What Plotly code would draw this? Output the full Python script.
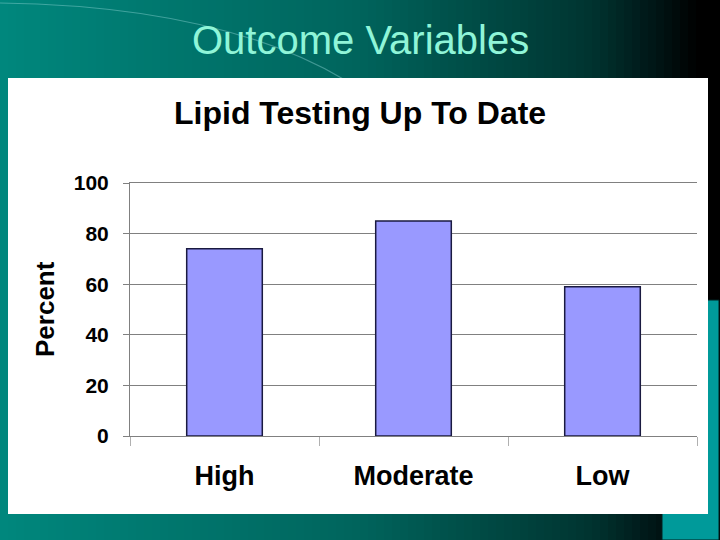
import plotly.graph_objects as go

categories = ["High", "Moderate", "Low"]
percent_values = [74, 85, 59]
y_ticks = [0, 20, 40, 60, 80, 100]

W, H = 720, 540
def px(x):
    return x / W
def py(y):
    return 1 - y / H

FONT = "Liberation Sans, Arial, sans-serif"

fig = go.Figure()
fig.add_trace(go.Bar(
    x=categories, y=percent_values,
    marker=dict(color="#9999ff", line=dict(color="#1a1a40", width=1.5)),
    width=0.4,
))

shapes = []
# gradient background strips
stops = [(0, (0, 135, 125)), (0.5, (0, 100, 92)), (0.82, (0, 52, 48)),
         (0.89, (0, 28, 28)), (0.97, (0, 0, 0)), (1.0, (0, 0, 0))]
def col(t):
    for (t0, c0), (t1, c1) in zip(stops[:-1], stops[1:]):
        if t0 <= t <= t1:
            f = (t - t0) / (t1 - t0)
            return "rgb(%d,%d,%d)" % tuple(round(a + (b - a) * f) for a, b in zip(c0, c1))
    return "rgb(0,0,0)"
N = 90
for i in range(N):
    shapes.append(dict(type="rect", xref="paper", yref="paper",
                       x0=i / N, x1=(i + 1) / N + 0.002, y0=0, y1=1,
                       fillcolor=col((i + 0.5) / N), line=dict(width=0), layer="below"))
# decorative arc
shapes.append(dict(type="path", xref="paper", yref="paper",
                   path="M 0,%f Q %f,%f %f,%f" % (py(3), px(220), py(6), px(345), py(80)),
                   line=dict(color="rgba(140,210,210,0.45)", width=1.2), layer="below"))
# teal block bottom right
shapes.append(dict(type="rect", xref="paper", yref="paper",
                   x0=px(662), x1=px(719), y0=py(540), y1=py(300),
                   fillcolor="#009a9a", line=dict(color="#002020", width=1), layer="below"))
# white panel
shapes.append(dict(type="rect", xref="paper", yref="paper",
                   x0=px(8), x1=px(708), y0=py(514), y1=py(78),
                   fillcolor="white", line=dict(width=0), layer="below"))

annotations = [
    dict(text="Outcome Variables", x=px(360), y=py(40), xref="paper", yref="paper",
         showarrow=False, xanchor="center", yanchor="middle",
         font=dict(family=FONT, size=40, color="#8ff5d8")),
    dict(text="Lipid Testing Up To Date", x=px(360), y=py(113), xref="paper", yref="paper",
         showarrow=False, xanchor="center", yanchor="middle",
         font=dict(family=FONT, size=32, color="black", weight="bold")),
    dict(text="Percent", x=px(45), y=py(309), xref="paper", yref="paper",
         showarrow=False, xanchor="center", yanchor="middle", textangle=-90,
         font=dict(family=FONT, size=26, color="black", weight="bold")),
]

fig.update_layout(
    width=W, height=H,
    margin=dict(l=0, r=0, t=0, b=0, pad=0, autoexpand=False),
    paper_bgcolor="black",
    plot_bgcolor="#c0c0c0",
    showlegend=False,
    shapes=shapes,
    annotations=annotations,
    bargap=0.6,
    xaxis=dict(
        domain=[px(130), px(697)],
        type="category", range=[-0.5, 2.5], automargin=False,
        tickson="boundaries", ticks="outside", ticklen=9, tickcolor="#b0b0b0",
        showline=True, linecolor="#808080", linewidth=1, mirror=True,
        showgrid=False, ticklabelstandoff=16,
        tickfont=dict(family=FONT, size=27, color="black", weight="bold"),
    ),
    yaxis=dict(
        domain=[py(436), py(183)],
        range=[0, 100], tickvals=y_ticks, automargin=False,
        ticks="outside", ticklen=6, tickcolor="#808080",
        showline=True, linecolor="#808080", linewidth=1,
        showgrid=True, gridcolor="#808080", gridwidth=1,
        zeroline=False, ticklabelstandoff=10,
        tickfont=dict(family=FONT, size=21, color="black", weight="bold"),
    ),
)

fig.write_html("out.html", config={"displayModeBar": False},
               post_script="document.body.style.margin='0px';document.body.style.overflow='hidden';")
